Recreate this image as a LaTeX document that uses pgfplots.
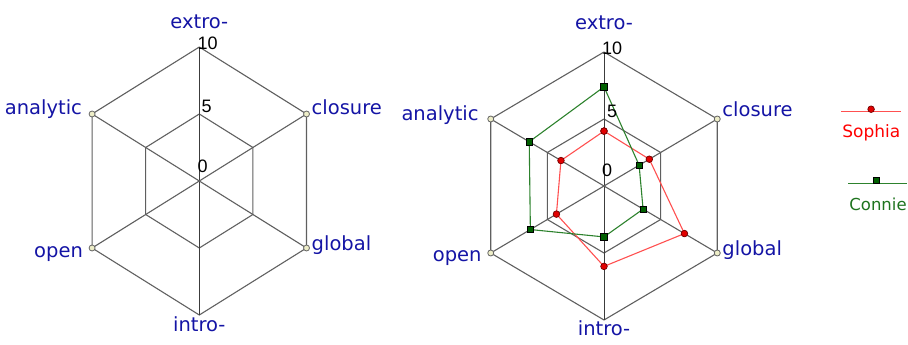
\documentclass[border=0pt]{standalone}
\usepackage{pgfplots}
\pgfplotsset{compat=1.18}
\usepackage{fontspec}
\setmainfont{DejaVu Sans}
\newfontfamily\numfont{Liberation Sans}
\definecolor{labblue}{RGB}{20,20,165}
\definecolor{gridc}{RGB}{95,95,95}
\definecolor{spoke}{RGB}{60,60,60}
\definecolor{sline}{RGB}{255,80,80}
\definecolor{smark}{RGB}{225,0,0}
\definecolor{cline}{RGB}{45,130,45}
\definecolor{cmark}{RGB}{0,95,0}
\definecolor{ctext}{RGB}{30,115,30}
\definecolor{vfill}{RGB}{238,238,200}
\pgfplotsset{
  radar/.style={
    hide axis, clip=false, scale only axis, anchor=center,
    xmin=-10, xmax=10, ymin=-10, ymax=10,
  },
  ring/.style={color=gridc, line width=1.1pt, mark=none, data cs=polar},
}
\tikzset{
  lab/.style={text=labblue, inner sep=0pt, font=\fontsize{19.5}{21}\selectfont},
  num/.style={inner sep=0pt, font=\numfont\fontsize{18}{20}\selectfont},
}
\begin{document}
\begin{tikzpicture}
\path[use as bounding box] (0,0) rectangle (908pt,345pt);
% ---------------- left chart ----------------
\begin{axis}[radar, at={(199.3pt,164pt)}, x=12.38pt, y=13.4pt]
\addplot[ring] coordinates {(90,10) (30,10) (-30,10) (-90,10) (210,10) (150,10) (90,10)};
\addplot[ring] coordinates {(90,5) (30,5) (-30,5) (-90,5) (210,5) (150,5) (90,5)};
\addplot[ring, color=spoke, line width=1pt] coordinates {(90,10) (270,10)};
\addplot[ring] coordinates {(30,10) (210,10)};
\addplot[ring] coordinates {(-30,10) (150,10)};
\addplot[only marks, data cs=polar, mark=*, mark size=3pt, mark options={fill=vfill, draw=gray!80!black, line width=0.8pt}] coordinates {(30,10) (-30,10) (210,10) (150,10)};
\node[lab, anchor=base] at (axis cs:0,10) [yshift=18pt] {extro-};
\node[lab, anchor=base] at (axis cs:0,-10) [yshift=-17pt] {intro-};
\node[lab, anchor=base west] at (axis cs:8.66,5) [xshift=5pt, yshift=-1pt] {closure};
\node[lab, anchor=base west] at (axis cs:8.66,-5) [xshift=5pt, yshift=-3pt] {global};
\node[lab, anchor=base east] at (axis cs:-8.66,5) [xshift=-10pt, yshift=-1pt] {analytic};
\node[lab, anchor=base east] at (axis cs:-8.66,-5) [xshift=-9pt, yshift=-10pt] {open};
\node[num, anchor=south west] at (axis cs:0,10) [xshift=-2pt, yshift=-3pt] {10};
\node[num, anchor=south west] at (axis cs:0,5) [xshift=2pt, yshift=1pt] {5};
\node[num, anchor=south west] at (axis cs:0,0) [xshift=-2pt, yshift=8pt] {0};
\end{axis}
% ---------------- right chart ----------------
\begin{axis}[radar, at={(604pt,159pt)}, x=13.08pt, y=13.4pt]
\addplot[ring] coordinates {(90,10) (30,10) (-30,10) (-90,10) (210,10) (150,10) (90,10)};
\addplot[ring] coordinates {(90,5) (30,5) (-30,5) (-90,5) (210,5) (150,5) (90,5)};
\addplot[ring, color=spoke, line width=1pt] coordinates {(90,10) (270,10)};
\addplot[ring] coordinates {(30,10) (210,10)};
\addplot[ring] coordinates {(-30,10) (150,10)};
\addplot[only marks, data cs=polar, mark=*, mark size=3pt, mark options={fill=vfill, draw=gray!80!black, line width=0.8pt}] coordinates {(30,10) (-30,10) (210,10) (150,10)};
% Sophia
\addplot[sline, line width=1.1pt, data cs=polar, mark=*, mark size=3.3pt, mark options={fill=smark, draw=smark!50!black, line width=0.7pt}]
  coordinates {(90,4.1) (30,4.0) (-30,7.1) (-90,6.0) (210,4.2) (150,3.8) (90,4.1)};
% Connie
\addplot[cline, line width=1.1pt, data cs=polar, mark=square*, mark size=3.2pt, mark options={fill=cmark, draw=black, line width=0.7pt}]
  coordinates {(90,7.4) (30,3.1) (-30,3.45) (-90,3.8) (210,6.5) (150,6.6) (90,7.4)};
% legend samples
\addplot[sline, line width=1.1pt] coordinates {(18.14,5.54) (22.67,5.54)};
\addplot[only marks, mark=*, mark size=3.3pt, mark options={fill=smark, draw=smark!50!black, line width=0.7pt}] coordinates {(20.42,5.73)};
\addplot[cline, line width=1.1pt] coordinates {(18.68,0.2) (23.14,0.2)};
\addplot[only marks, mark=square*, mark size=3.2pt, mark options={fill=cmark, draw=black, line width=0.7pt}] coordinates {(20.8,0.4)};
\node[inner sep=0pt, anchor=base, text=red, font=\fontsize{17}{19}\selectfont] at (axis cs:20.44,3.6) {Sophia};
\node[inner sep=0pt, anchor=base, text=ctext, font=\fontsize{16.5}{18}\selectfont] at (axis cs:20.95,-1.83) {Connie};
% labels
\node[lab, anchor=base] at (axis cs:0,10) [yshift=22pt] {extro-};
\node[lab, anchor=base] at (axis cs:0,-10) [yshift=-16pt] {intro-};
\node[lab, anchor=base west] at (axis cs:8.66,5) [xshift=5pt, yshift=2pt] {closure};
\node[lab, anchor=base west] at (axis cs:8.66,-5) [xshift=5pt, yshift=-3pt] {global};
\node[lab, anchor=base east] at (axis cs:-8.66,5) [xshift=-12pt, yshift=-2pt] {analytic};
\node[lab, anchor=base east] at (axis cs:-8.66,-5) [xshift=-9pt, yshift=-9pt] {open};
\node[num, anchor=south west] at (axis cs:0,10) [xshift=-2pt, yshift=-3pt] {10};
\node[num, anchor=south west] at (axis cs:0,5) [xshift=3pt, yshift=1pt] {5};
\node[num, anchor=south west] at (axis cs:0,0) [xshift=-2pt, yshift=9pt] {0};
\end{axis}
\end{tikzpicture}
\end{document}
